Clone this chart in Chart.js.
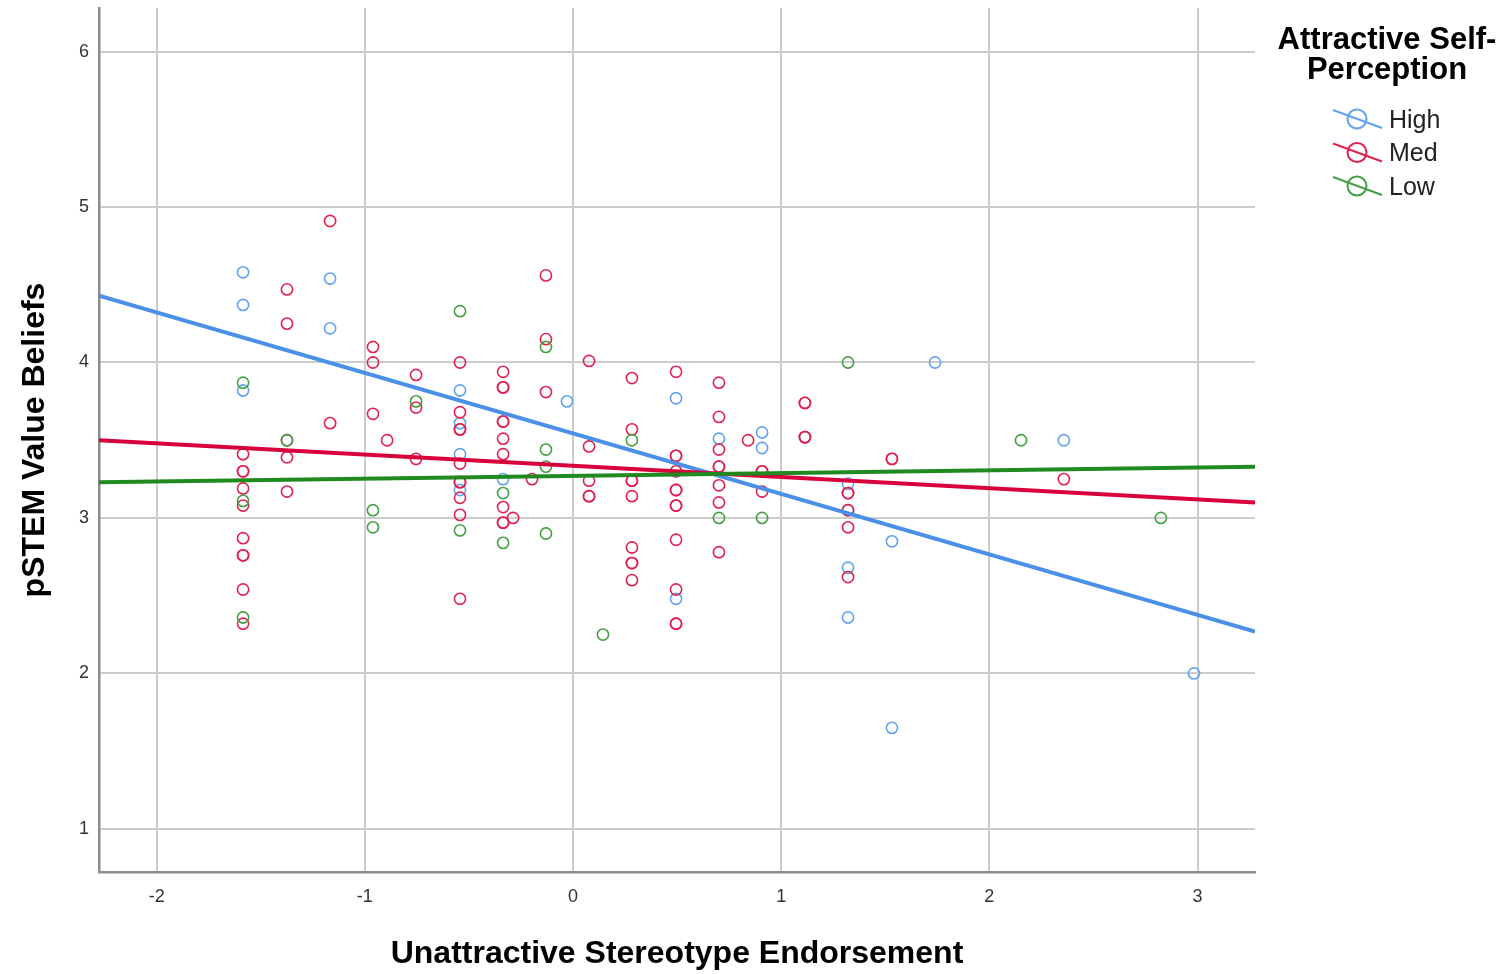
<!DOCTYPE html>
<html>
<head>
<meta charset="utf-8">
<script src="https://cdn.jsdelivr.net/npm/chart.js@4.4.0/dist/chart.umd.min.js"></script>
<style>
  html, body { margin: 0; padding: 0; background: #fff; }
  #wrap { width: 1508px; height: 974px; position: relative; }
</style>
</head>
<body>
<div id="wrap"><canvas id="chart"></canvas></div>
<script>
// series names (legend order)
const groups = ["High", "Med", "Low"];

// Unattractive Stereotype Endorsement / pSTEM Value Beliefs
const highX = [-1.585, -1.585, -1.585, -1.167, -1.167, -0.543, -0.543, -0.543, -0.543, -0.336,
    -0.029, 0.495, 0.495, 0.701, 0.908, 0.908, 1.114, 1.321, 1.321, 1.321, 1.321, 1.532, 1.532,
    1.739, 2.358, 2.983];
const highY = [4.58, 4.37, 3.82, 4.54, 4.22, 3.82, 3.61, 3.41, 3.18, 3.25,
    3.75, 3.77, 2.48, 3.51, 3.55, 3.45, 3.52, 3.22, 3.05, 2.68, 2.36, 2.85, 1.65,
    4.00, 3.50, 2.00];

const medX = [-1.585, -1.585, -1.585, -1.585, -1.585, -1.585, -1.585, -1.585, -1.585, -1.585,
    -1.374, -1.374, -1.374, -1.374, -1.374,
    -1.167, -1.167,
    -0.961, -0.961, -0.961,
    -0.893,
    -0.754, -0.754, -0.754,
    -0.543, -0.543, -0.543, -0.543, -0.543, -0.543, -0.543, -0.543, -0.543, -0.543,
    -0.336, -0.336, -0.336, -0.336, -0.336, -0.336, -0.336, -0.336, -0.336, -0.336,
    -0.288, -0.197,
    -0.130, -0.130, -0.130,
    0.077, 0.077, 0.077, 0.077, 0.077,
    0.283, 0.283, 0.283, 0.283, 0.283, 0.283, 0.283, 0.283, 0.283,
    0.495, 0.495, 0.495, 0.495, 0.495, 0.495, 0.495, 0.495, 0.495, 0.495, 0.495, 0.495,
    0.701, 0.701, 0.701, 0.701, 0.701, 0.701, 0.701, 0.701,
    0.841,
    0.908, 0.908, 0.908,
    1.114, 1.114, 1.114, 1.114,
    1.321, 1.321, 1.321, 1.321, 1.321,
    1.532, 1.532,
    2.358];
const medY = [3.41, 3.30, 3.30, 3.19, 3.08, 2.87, 2.76, 2.76, 2.54, 2.32,
    4.47, 4.25, 3.50, 3.39, 3.17,
    4.91, 3.61,
    4.10, 4.00, 3.67,
    3.50,
    3.92, 3.71, 3.38,
    4.00, 3.68, 3.57, 3.57, 3.35, 3.23, 3.23, 3.13, 3.02, 2.48,
    3.94, 3.84, 3.84, 3.62, 3.62, 3.51, 3.41, 3.07, 2.97, 2.97,
    3.00, 3.25,
    4.56, 4.15, 3.81,
    4.01, 3.46, 3.24, 3.14, 3.14,
    3.90, 3.57, 3.24, 3.24, 3.14, 2.81, 2.71, 2.71, 2.60,
    3.94, 3.40, 3.40, 3.30, 3.18, 3.18, 3.08, 3.08, 2.86, 2.54, 2.32, 2.32,
    3.87, 3.65, 3.44, 3.33, 3.33, 3.21, 3.10, 2.78,
    3.50,
    3.30, 3.30, 3.17,
    3.74, 3.74, 3.52, 3.52,
    3.16, 3.16, 3.05, 2.94, 2.62,
    3.38, 3.38,
    3.25];

const lowX = [-1.585, -1.585, -1.585, -1.374, -0.961, -0.961, -0.754, -0.543, -0.543,
    -0.336, -0.336, -0.130, -0.130, -0.130, -0.130, 0.144, 0.283, 0.701, 0.908, 1.321,
    2.152, 2.824];
const lowY = [3.87, 3.11, 2.36, 3.50, 3.05, 2.94, 3.75, 4.33, 2.92,
    3.16, 2.84, 4.10, 3.44, 3.33, 2.90, 2.25, 3.50, 3.00, 3.00, 4.00,
    3.50, 3.00];

// fit lines: value at the left and right edge of the x axis
const fitStart = [4.43, 3.50, 3.23];
const fitEnd = [2.27, 3.10, 3.33];

const xTicks = [-2, -1, 0, 1, 2, 3];
const yTicks = [1, 2, 3, 4, 5, 6];
const X_MIN = -2.277, X_MAX = 3.276;
const Y_MIN = 0.723, Y_MAX = 6.28;

const pointColors = ["#62a3ee", "#e0224f", "#43a043"];
const lineColors = ["#4a90e6", "#d8003c", "#208a20"];

function pts(xs, ys) {
    return xs.map((x, i) => ({ x: x, y: ys[i] }));
}

const seriesX = [highX, medX, lowX];
const seriesY = [highY, medY, lowY];

const datasets = [];
groups.forEach((g, i) => {
    datasets.push({
        label: g + " fit",
        data: [{ x: X_MIN, y: fitStart[i] }, { x: X_MAX, y: fitEnd[i] }],
        showLine: true,
        borderColor: lineColors[i],
        borderWidth: 4,
        pointRadius: 0,
        order: 2 - i
    });
});
groups.forEach((g, i) => {
    datasets.push({
        label: g,
        data: pts(seriesX[i], seriesY[i]),
        borderColor: pointColors[i],
        backgroundColor: "rgba(0,0,0,0)",
        borderWidth: 1.6,
        pointRadius: 5.6,
        order: 5 - i
    });
});

const FONT = "'Liberation Sans', Arial, sans-serif";

// legend drawn by hand so the symbol is a line through a circle
const sideLegend = {
    id: "sideLegend",
    afterDraw(chart) {
        const ctx = chart.ctx;
        ctx.save();
        ctx.fillStyle = "#000";
        ctx.font = "bold 31px " + FONT;
        ctx.textAlign = "center";
        ctx.textBaseline = "middle";
        ctx.fillText("Attractive Self-", 1387, 40);
        ctx.fillText("Perception", 1387, 70);

        ctx.font = "25px " + FONT;
        ctx.textAlign = "left";
        groups.forEach((g, i) => {
            const cy = 119 + i * 33.5;
            const cx = 1357;
            ctx.strokeStyle = pointColors[i];
            ctx.lineWidth = 2;
            ctx.beginPath();
            ctx.moveTo(cx - 24, cy - 9);
            ctx.lineTo(cx + 25, cy + 9);
            ctx.stroke();
            ctx.beginPath();
            ctx.arc(cx, cy, 9.5, 0, Math.PI * 2);
            ctx.stroke();
            ctx.fillStyle = "#222";
            ctx.fillText(g, 1389, cy + 2);
        });
        ctx.restore();
    }
};

new Chart(document.getElementById("chart"), {
    type: "scatter",
    data: { datasets: datasets },
    plugins: [sideLegend],
    options: {
        responsive: true,
        maintainAspectRatio: false,
        animation: false,
        layout: { padding: { top: 8, right: 253, left: 0, bottom: 0 } },
        plugins: {
            legend: { display: false },
            tooltip: { enabled: false }
        },
        scales: {
            x: {
                type: "linear",
                min: X_MIN,
                max: X_MAX,
                afterBuildTicks: (axis) => { axis.ticks = xTicks.map(v => ({ value: v })); },
                afterFit: (axis) => {
                    axis.height = 102;
                    axis.paddingLeft = 0;
                    axis.paddingRight = 0;
                },
                ticks: {
                    includeBounds: false,
                    padding: 14,
                    color: "#333",
                    font: { size: 18, family: FONT }
                },
                grid: { color: "#cccccc", lineWidth: 2, drawTicks: false },
                border: { color: "#8c8c8c", width: 2.5 },
                title: {
                    display: true,
                    text: "Unattractive Stereotype Endorsement",
                    color: "#000",
                    padding: { top: 0, bottom: 1 },
                    font: { size: 32, weight: "bold", family: FONT }
                }
            },
            y: {
                type: "linear",
                min: Y_MIN,
                max: Y_MAX,
                afterBuildTicks: (axis) => { axis.ticks = yTicks.map(v => ({ value: v })); },
                afterFit: (axis) => {
                    axis.width = 99;
                    axis.paddingTop = 0;
                    axis.paddingBottom = 0;
                },
                ticks: {
                    includeBounds: false,
                    padding: 10,
                    color: "#333",
                    font: { size: 18, family: FONT }
                },
                grid: { color: "#cccccc", lineWidth: 2, drawTicks: false },
                border: { color: "#8c8c8c", width: 2.5 },
                title: {
                    display: true,
                    text: "pSTEM Value Beliefs",
                    color: "#000",
                    padding: { top: 16, bottom: 0 },
                    font: { size: 32, weight: "bold", family: FONT }
                }
            }
        }
    }
});
</script>
</body>
</html>
